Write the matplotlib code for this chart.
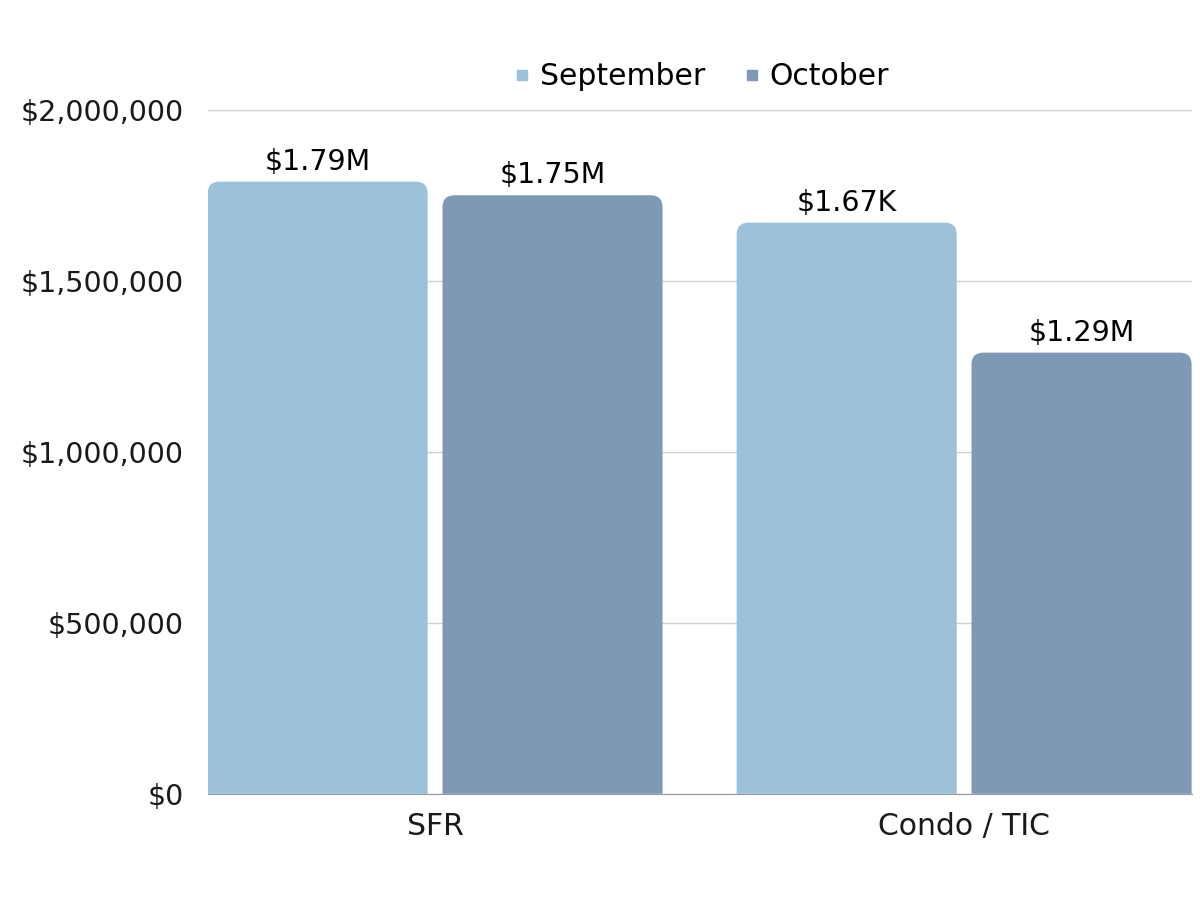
import matplotlib
matplotlib.use('Agg')
from matplotlib import pyplot as plt
from matplotlib.patches import PathPatch
from matplotlib.path import Path
from matplotlib.lines import Line2D
from matplotlib.ticker import FuncFormatter
import numpy as np

categories = ['SFR', 'Condo / TIC']
september = [1790000, 1670000]
october = [1750000, 1290000]
sept_labels = ['$1.79M', '$1.67K']
oct_labels = ['$1.75M', '$1.29M']

c_sept = '#9bc2d8'
c_oct = '#7f98b5'

plt.rcParams['font.family'] = ['DejaVu Sans']

fig = plt.figure(figsize=(12, 9), dpi=100)
ax = fig.add_axes([0.173, 0.118, 0.82, 0.760])

x = np.arange(len(categories))
w = 0.416
off = 0.222
ax.set_xlim(-0.43, 1.43)
ax.set_ylim(0, 2000000)

# pixel -> data scale, so the corners come out round
px_x = 1.86 / 984
px_y = 2000000 / 684
r = 12


def rounded_bars(bars, color):
    # swap each bar for a path with rounded top corners only
    for b in bars:
        b.set_visible(False)
        x0, y0 = b.get_x(), b.get_y()
        x1, y1 = x0 + b.get_width(), y0 + b.get_height()
        rx, ry = r * px_x, r * px_y
        verts = [(x0, y0), (x0, y1 - ry), (x0, y1), (x0 + rx, y1),
                 (x1 - rx, y1), (x1, y1), (x1, y1 - ry), (x1, y0), (x0, y0)]
        codes = [Path.MOVETO, Path.LINETO, Path.CURVE3, Path.CURVE3,
                 Path.LINETO, Path.CURVE3, Path.CURVE3, Path.LINETO, Path.CLOSEPOLY]
        ax.add_patch(PathPatch(Path(verts, codes), fc=color, ec='none', zorder=2))


b1 = ax.bar(x - off, september, w, color=c_sept, label='September')
b2 = ax.bar(x + off, october, w, color=c_oct, label='October')
rounded_bars(b1, c_sept)
rounded_bars(b2, c_oct)

fs = 20.5
for xi, v, t in zip(x - off, september, sept_labels):
    ax.text(xi, v + 17000, t, ha='center', va='bottom', fontsize=fs, color='black')
for xi, v, t in zip(x + off, october, oct_labels):
    ax.text(xi, v + 17000, t, ha='center', va='bottom', fontsize=fs, color='black')

ax.set_xticks(x)
ax.set_xticklabels(categories, fontsize=21.5, color='#1a1a1a')
ax.set_yticks(range(0, 2000001, 500000))
ax.yaxis.set_major_formatter(FuncFormatter(lambda v, p: '${:,.0f}'.format(v)))
ax.tick_params(axis='y', labelsize=fs, labelcolor='#1a1a1a', length=0, pad=17)
ax.tick_params(axis='x', length=0, pad=13)

ax.grid(axis='y', color='#d0d0d0', linewidth=1, zorder=0)
ax.set_axisbelow(True)
for s in ['top', 'right', 'left']:
    ax.spines[s].set_visible(False)
ax.spines['bottom'].set_color('#999999')
ax.spines['bottom'].set_zorder(3)

handles = [Line2D([], [], marker='s', linestyle='', color=c_sept, markersize=7.5),
           Line2D([], [], marker='s', linestyle='', color=c_oct, markersize=7.5)]
fig.legend(handles, ['September', 'October'], loc='center', bbox_to_anchor=(0.585, 0.915),
           ncol=2, frameon=False, fontsize=21.5, handlelength=0.5, handletextpad=0.35,
           columnspacing=1.3)

fig.savefig('out.png', dpi=100)
